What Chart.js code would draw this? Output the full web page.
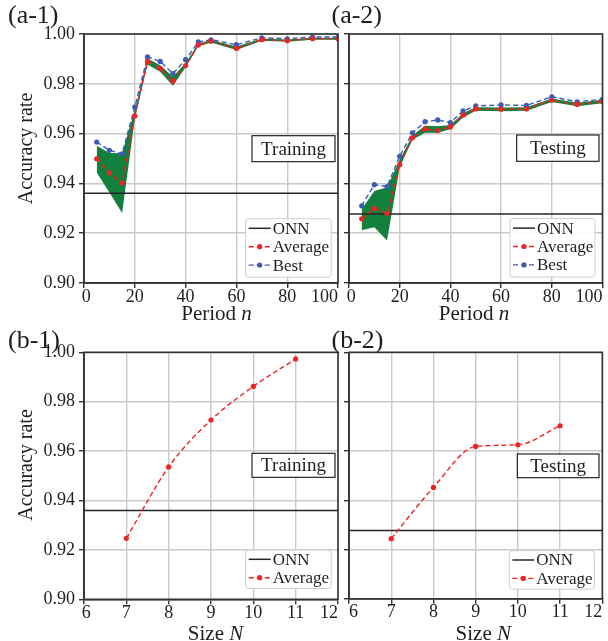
<!DOCTYPE html>
<html>
<head>
<meta charset="utf-8">
<title>Accuracy rate vs period and size</title>
<script src="https://cdn.jsdelivr.net/npm/chart.js@4.4.1/dist/chart.umd.min.js"></script>
<style>
  html, body { margin: 0; padding: 0; background: #fff; }
  #wrap { position: relative; width: 608px; height: 641px; overflow: hidden; }
  #wrap canvas { position: absolute; left: 0; top: 0; }
</style>
</head>
<body>
<div id="wrap">
  <canvas id="a1" width="608" height="641"></canvas>
  <canvas id="a2" width="608" height="641"></canvas>
  <canvas id="b1" width="608" height="641"></canvas>
  <canvas id="b2" width="608" height="641"></canvas>
</div>
<script>
// ---- data ----

// (a) accuracy vs period n
const periods = [5, 10, 15, 20, 25, 30, 35, 40, 45, 50, 60, 70, 80, 90, 100];

const trainAvg  = [0.9499, 0.9442, 0.9402, 0.9671, 0.9890, 0.9862, 0.9810, 0.9873, 0.9956, 0.9971, 0.9942, 0.9977, 0.9973, 0.9981, 0.9981];
const trainBest = [0.9566, 0.9533, 0.9519, 0.9707, 0.9908, 0.9890, 0.9841, 0.9897, 0.9968, 0.9977, 0.9957, 0.9985, 0.9981, 0.9988, 0.9988];
const trainMin  = [0.9444, 0.9363, 0.9281, 0.9660, 0.9878, 0.9848, 0.9792, 0.9866, 0.9950, 0.9966, 0.9936, 0.9973, 0.9969, 0.9977, 0.9977];
const trainMax  = [0.9551, 0.9522, 0.9521, 0.9695, 0.9902, 0.9875, 0.9828, 0.9884, 0.9962, 0.9976, 0.9950, 0.9982, 0.9978, 0.9985, 0.9985];

const testAvg  = [0.9258, 0.9299, 0.9279, 0.9475, 0.9583, 0.9619, 0.9612, 0.9627, 0.9674, 0.9699, 0.9698, 0.9699, 0.9734, 0.9717, 0.9729];
const testBest = [0.9310, 0.9395, 0.9387, 0.9509, 0.9603, 0.9648, 0.9655, 0.9644, 0.9691, 0.9711, 0.9715, 0.9713, 0.9748, 0.9728, 0.9738];
const testMin  = [0.9212, 0.9224, 0.9171, 0.9465, 0.9575, 0.9603, 0.9603, 0.9617, 0.9665, 0.9692, 0.9690, 0.9692, 0.9727, 0.9710, 0.9722];
const testMax  = [0.9296, 0.9369, 0.9385, 0.9495, 0.9592, 0.9632, 0.9630, 0.9635, 0.9682, 0.9706, 0.9705, 0.9706, 0.9741, 0.9724, 0.9736];

// (b) accuracy vs size N
const sizes     = [7, 8, 9, 10, 11];
const sizeTrain = [0.9247, 0.9536, 0.9726, 0.9862, 0.9973];
const sizeTest  = [0.9244, 0.9452, 0.9618, 0.9625, 0.9702];

// ONN reference levels
const onnTrain = 0.9360;
const onnTest  = 0.9277;

// axis ranges and tick steps
const periodRange = [0, 100, 20];
const sizeRange   = [6, 12, 1];
const accRange    = [0.90, 1.00, 0.02];

// ---- styles ----
const SERIF = '"Liberation Serif", "Times New Roman", serif';
const RED = '#ee2424';
const BLUE = '#3d5bb5';
const GREEN = '#11803c';
const FRAME = '#333333';
const GRID = '#c9c9c9';
const TEXT = '#1e1e1e';

function pts(xs, ys) {
  return xs.map((x, i) => ({ x: x, y: ys[i] }));
}

// Decorations: frame, panel label, axis titles, text box and legend
const panelDecor = {
  id: 'panelDecor',
  afterDraw(chart, args, opts) {
    const ctx = chart.ctx;
    const a = chart.chartArea;
    ctx.save();

    // full frame around the plot
    ctx.strokeStyle = FRAME;
    ctx.lineWidth = 1.6;
    ctx.strokeRect(a.left, a.top, a.right - a.left, a.bottom - a.top);

    ctx.fillStyle = TEXT;
    ctx.textAlign = 'left';
    ctx.textBaseline = 'alphabetic';

    // panel label like (a-1)
    ctx.font = '26px ' + SERIF;
    ctx.fillText(opts.label[0], opts.label[1], opts.label[2]);

    // y axis title
    if (opts.yTitle) {
      ctx.save();
      ctx.translate(opts.yTitle[1], opts.yTitle[2]);
      ctx.rotate(-Math.PI / 2);
      ctx.font = '20px ' + SERIF;
      ctx.textAlign = 'center';
      ctx.textBaseline = 'middle';
      ctx.fillText(opts.yTitle[0], 0, 0);
      ctx.restore();
    }

    // x axis title, upright part + italic variable
    const parts = opts.xTitle.parts;
    let total = 0;
    parts.forEach(p => {
      ctx.font = (p[1] ? 'italic ' : '') + '21px ' + SERIF;
      total += ctx.measureText(p[0]).width;
    });
    let cx = opts.xTitle.x - total / 2;
    parts.forEach(p => {
      ctx.font = (p[1] ? 'italic ' : '') + '21px ' + SERIF;
      ctx.fillText(p[0], cx, opts.xTitle.y);
      cx += ctx.measureText(p[0]).width;
    });

    // "Training" / "Testing" box
    const b = opts.box;
    ctx.fillStyle = '#ffffff';
    ctx.fillRect(b.x, b.y, b.w, b.h);
    ctx.strokeStyle = '#111';
    ctx.lineWidth = 1.1;
    ctx.strokeRect(b.x, b.y, b.w, b.h);
    ctx.fillStyle = TEXT;
    ctx.font = '19px ' + SERIF;
    ctx.textAlign = 'center';
    ctx.textBaseline = 'middle';
    ctx.fillText(b.text, b.x + b.w / 2, b.y + b.h / 2 + 1);

    // legend box
    const lg = opts.legend;
    const items = chart.data.datasets.filter(d => d.inLegend);
    ctx.beginPath();
    ctx.roundRect(lg.x, lg.y, lg.w, lg.h, 3);
    ctx.fillStyle = 'rgba(255,255,255,0.92)';
    ctx.fill();
    ctx.strokeStyle = '#cfcfcf';
    ctx.lineWidth = 1;
    ctx.stroke();

    ctx.textAlign = 'left';
    ctx.textBaseline = 'middle';
    ctx.font = '17px ' + SERIF;
    items.forEach((d, i) => {
      const y = lg.y + lg.first + i * lg.step;
      const x0 = lg.x + 3;
      const x1 = lg.x + 25;
      ctx.strokeStyle = d.borderColor;
      ctx.lineWidth = d.borderWidth;
      ctx.setLineDash(d.borderDash || []);
      ctx.beginPath();
      ctx.moveTo(x0, y);
      ctx.lineTo(x1, y);
      ctx.stroke();
      ctx.setLineDash([]);
      if (d.pointRadius > 0) {
        ctx.fillStyle = d.borderColor;
        ctx.beginPath();
        ctx.arc((x0 + x1) / 2, y, d.pointRadius, 0, Math.PI * 2);
        ctx.fill();
      }
      ctx.fillStyle = TEXT;
      ctx.fillText(d.label, lg.x + 27, y + 1);
    });

    ctx.restore();
  }
};

// first / last x tick labels are nudged inward like in the figure
function xLabel(firstPad) {
  return function (value, index, ticks) {
    let s = String(value);
    if (index === ticks.length - 1) s = s + '\u2007'.repeat(s.length);
    if (index === 0) s = firstPad + s;
    return s;
  };
}

function makePanel(id, p) {
  const yw = p.showY ? 60 : 10;
  const xh = 30;
  return new Chart(document.getElementById(id), {
    type: 'line',
    data: { datasets: p.datasets },
    plugins: [panelDecor],
    options: {
      responsive: false,
      animation: false,
      events: [],
      layout: {
        padding: {
          left: p.area[0] - yw,
          top: p.area[1],
          right: 608 - p.area[2],
          bottom: 641 - p.area[3] - xh
        }
      },
      plugins: {
        legend: { display: false },
        tooltip: { enabled: false },
        panelDecor: p.decor
      },
      scales: {
        x: {
          type: 'linear',
          min: p.xRange[0],
          max: p.xRange[1],
          ticks: {
            stepSize: p.xRange[2],
            autoSkip: false,
            maxRotation: 0,
            padding: -2,
            color: TEXT,
            font: { family: SERIF, size: 18 },
            callback: xLabel(p.firstPad)
          },
          grid: { color: GRID, lineWidth: 1.4, tickColor: FRAME, tickLength: 5 },
          border: { color: FRAME, width: 1.6 },
          afterFit(s) { s.height = xh; s.paddingLeft = 0; s.paddingRight = 0; }
        },
        y: {
          min: accRange[0],
          max: accRange[1],
          ticks: {
            stepSize: accRange[2],
            padding: 4,
            color: TEXT,
            font: { family: SERIF, size: 18 },
            callback: v => p.showY ? v.toFixed(2) : ''
          },
          grid: { color: GRID, lineWidth: 1.4, tickColor: FRAME, tickLength: 5 },
          border: { color: FRAME, width: 1.6 },
          afterFit(s) { s.width = yw; s.paddingTop = 0; s.paddingBottom = 0; }
        }
      }
    }
  });
}

// dataset builders
function bandSets(lo, hi) {
  return [
    { label: 'min', data: pts(periods, lo), borderWidth: 0, pointRadius: 0, fill: false, order: 6 },
    { label: 'max', data: pts(periods, hi), borderWidth: 0, pointRadius: 0, backgroundColor: GREEN, fill: '-1', order: 5 }
  ];
}
function onnSet(level, range) {
  return { label: 'ONN', inLegend: true, data: pts([range[0], range[1]], [level, level]),
    borderColor: '#262626', borderWidth: 1.5, pointRadius: 0, fill: false, order: 3 };
}
function dashedSet(label, color, xs, ys, smooth) {
  return { label: label, inLegend: true, data: pts(xs, ys),
    borderColor: color, backgroundColor: color, borderWidth: 1.4, borderDash: [5, 3],
    pointRadius: 2.6, pointBorderWidth: 0, pointBackgroundColor: color,
    cubicInterpolationMode: smooth ? 'monotone' : 'default', tension: 0,
    fill: false, order: label === 'Average' ? 1 : 2 };
}

// (a-1) training vs period
makePanel('a1', {
  area: [84, 34, 338, 283], showY: true, xRange: periodRange, firstPad: '\u2008',
  datasets: [
    ...bandSets(trainMin, trainMax),
    onnSet(onnTrain, periodRange),
    dashedSet('Average', RED, periods, trainAvg, false),
    dashedSet('Best', BLUE, periods, trainBest, false)
  ],
  decor: {
    label: ['(a-1)', 8, 23],
    yTitle: ['Accuracy rate', 27, 148.5],
    xTitle: { parts: [['Period ', false], ['n', true]], x: 216.5, y: 320 },
    box: { x: 252, y: 135.7, w: 83, h: 26, text: 'Training' },
    legend: { x: 245.7, y: 218.7, w: 85.5, h: 58.5, first: 9.6, step: 18.4 }
  }
});

// (a-2) testing vs period
makePanel('a2', {
  area: [349, 34, 602.5, 283], showY: false, xRange: periodRange, firstPad: '\u2008',
  datasets: [
    ...bandSets(testMin, testMax),
    onnSet(onnTest, periodRange),
    dashedSet('Average', RED, periods, testAvg, false),
    dashedSet('Best', BLUE, periods, testBest, false)
  ],
  decor: {
    label: ['(a-2)', 331.5, 23],
    yTitle: null,
    xTitle: { parts: [['Period ', false], ['n', true]], x: 474, y: 320 },
    box: { x: 516.7, y: 135, w: 82.3, h: 26.3, text: 'Testing' },
    legend: { x: 510, y: 218.5, w: 85, h: 58.5, first: 9.6, step: 18.4 }
  }
});

// (b-1) training vs size
makePanel('b1', {
  area: [84, 352.3, 338, 599.3], showY: true, xRange: sizeRange, firstPad: '\u2008',
  datasets: [
    onnSet(onnTrain, sizeRange),
    dashedSet('Average', RED, sizes, sizeTrain, true)
  ],
  decor: {
    label: ['(b-1)', 8, 348],
    yTitle: ['Accuracy rate', 27, 465],
    xTitle: { parts: [['Size ', false], ['N', true]], x: 215.5, y: 639.5 },
    box: { x: 252, y: 453.3, w: 83, h: 24, text: 'Training' },
    legend: { x: 245.7, y: 550, w: 85.5, h: 38.5, first: 9.3, step: 18.4 }
  }
});

// (b-2) testing vs size
makePanel('b2', {
  area: [349, 352.3, 602.3, 598.8], showY: false, xRange: sizeRange, firstPad: '\u2007',
  datasets: [
    onnSet(onnTest, sizeRange),
    dashedSet('Average', RED, sizes, sizeTest, true)
  ],
  decor: {
    label: ['(b-2)', 331.5, 348],
    yTitle: null,
    xTitle: { parts: [['Size ', false], ['N', true]], x: 483.3, y: 639.5 },
    box: { x: 517.3, y: 454, w: 81.7, h: 23.7, text: 'Testing' },
    legend: { x: 509.3, y: 550.7, w: 85, h: 38.5, first: 9.3, step: 18.4 }
  }
});
</script>
</body>
</html>
